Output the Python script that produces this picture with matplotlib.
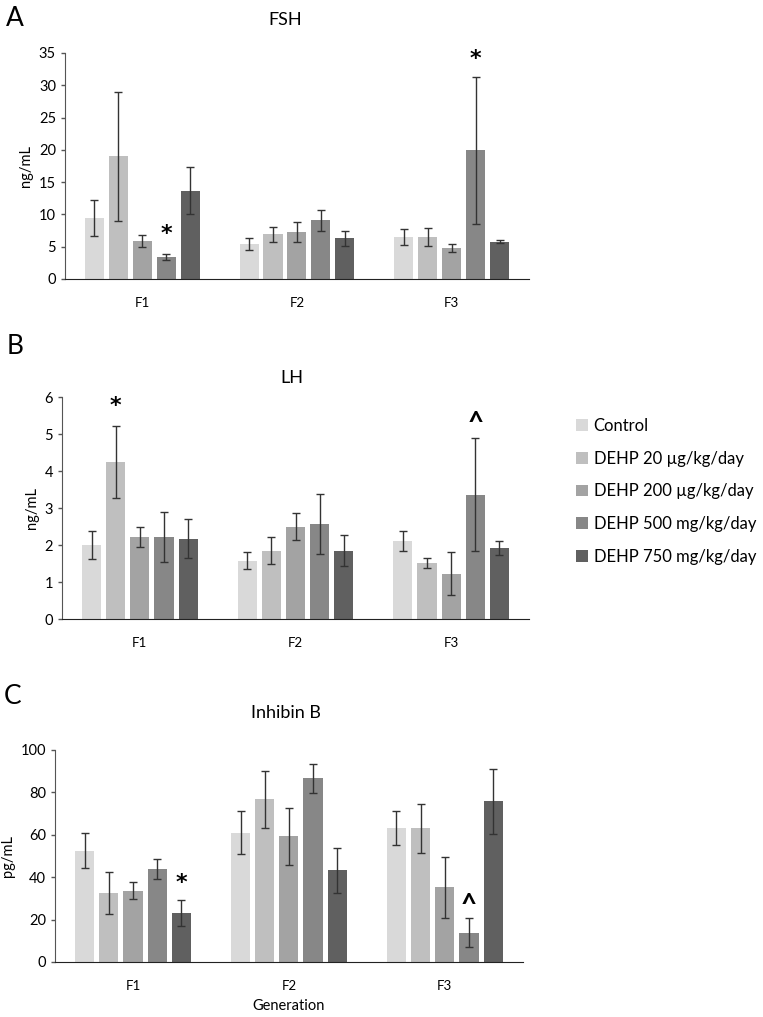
import matplotlib
matplotlib.use("Agg")
import matplotlib.pyplot as plt
from matplotlib.patches import Patch
import numpy as np

plt.rcParams['font.family'] = ['Lato', 'DejaVu Sans']

generaciones = ['F1', 'F2', 'F3']
grupos = ['Control', 'DEHP 20 µg/kg/day', 'DEHP 200 µg/kg/day',
          'DEHP 500 mg/kg/day', 'DEHP 750 mg/kg/day']
colores = ['#d9d9d9', '#bfbfbf', '#a3a3a3', '#878787', '#606060']

# valores [grupo][generacion]
fsh = [[9.5, 5.45, 6.5], [19.0, 6.9, 6.5], [5.9, 7.3, 4.8],
       [3.4, 9.1, 19.9], [13.7, 6.3, 5.8]]
fsh_err = [[2.8, 0.95, 1.3], [10.0, 1.1, 1.45], [0.9, 1.6, 0.6],
           [0.5, 1.6, 11.4], [3.7, 1.2, 0.25]]

lh = [[2.0, 1.58, 2.12], [4.25, 1.85, 1.52], [2.22, 2.5, 1.22],
      [2.22, 2.57, 3.36], [2.17, 1.85, 1.91]]
lh_err = [[0.38, 0.23, 0.27], [0.97, 0.36, 0.13], [0.28, 0.36, 0.58],
          [0.67, 0.8, 1.53], [0.53, 0.42, 0.19]]

inh = [[52.4, 61.0, 63.0], [32.5, 76.8, 63.0], [33.6, 59.3, 35.3],
       [44.0, 86.7, 13.8], [23.1, 43.3, 75.8]]
inh_err = [[8.2, 10.0, 8.0], [9.8, 13.4, 11.5], [3.9, 13.5, 14.4],
           [4.8, 6.8, 6.8], [6.0, 10.6, 15.4]]

# marcas de significancia: (generacion, grupo, simbolo, y)
marcas_fsh = [(0, 3, '*', 6.9), (2, 3, '*', 34.1)]
marcas_lh = [(0, 1, '*', 5.75), (2, 3, '^', 5.5)]
marcas_inh = [(0, 4, '*', 37.2), (2, 3, '^', 30.1)]

ancho = 0.123
paso = 0.155


def panel(fig, rect, valores, errores, ymax, ystep, ylabel, marcas,
          xlabel=None):
    ax = fig.add_axes(rect)
    x = np.arange(len(generaciones))
    for i in range(len(grupos)):
        ax.bar(x + (i - 2) * paso, valores[i], ancho, color=colores[i],
               yerr=errores[i], capsize=3,
               error_kw=dict(ecolor='#333333', elinewidth=1, capthick=1))
    for g, i, s, y in marcas:
        if s == '*':
            ax.text(g + (i - 2) * paso, y, s, ha='center', va='center',
                    fontsize=16, fontweight='bold', family='DejaVu Sans')
        else:
            # el circunflejo queda alto en la caja, se baja un poco
            ax.annotate(s, (g + (i - 2) * paso, y), xytext=(0, -6),
                        textcoords='offset points', ha='center',
                        va='center', fontsize=20, fontweight='bold')
    ax.set_xlim(-0.5, 2.5)
    ax.set_ylim(0, ymax)
    ax.set_yticks(np.arange(0, ymax + 0.001, ystep))
    ax.set_xticks(x)
    ax.set_xticklabels(generaciones)
    ax.tick_params(axis='x', length=0, pad=13, labelsize=9.5)
    ax.tick_params(axis='y', length=3, width=1, labelsize=10.5,
                   color='#555555')
    for s in ['top', 'right']:
        ax.spines[s].set_visible(False)
    ax.spines['left'].set_color('#555555')
    ax.spines['bottom'].set_color('#222222')
    ax.set_ylabel(ylabel, fontsize=10.5)
    if xlabel:
        ax.set_xlabel(xlabel, fontsize=10.5, labelpad=5)
    return ax


fig = plt.figure(figsize=(7.63, 10.17), dpi=100)

panel(fig, [0.0852, 0.7257, 0.608, 0.2222], fsh, fsh_err, 35, 5,
      'ng/mL', marcas_fsh)
panel(fig, [0.0813, 0.3913, 0.612, 0.2183], lh, lh_err, 6, 1,
      'ng/mL', marcas_lh)
panel(fig, [0.0721, 0.0541, 0.613, 0.2085], inh, inh_err, 100, 20,
      'pg/mL', marcas_inh, xlabel='Generation')

# titulos y letras
fig.text(285 / 763, 1 - 20 / 1017, 'FSH', ha='center', va='center', fontsize=13)
fig.text(292 / 763, 1 - 378 / 1017, 'LH', ha='center', va='center', fontsize=13)
fig.text(286 / 763, 1 - 713 / 1017, 'Inhibin B', ha='center', va='center', fontsize=13)
fig.text(15 / 763, 1 - 18 / 1017, 'A', ha='center', va='center', fontsize=19)
fig.text(15 / 763, 1 - 346 / 1017, 'B', ha='center', va='center', fontsize=19)
fig.text(13 / 763, 1 - 697 / 1017, 'C', ha='center', va='center', fontsize=19)

handles = [Patch(facecolor=c, edgecolor='none') for c in colores]
fig.legend(handles, grupos, loc='upper left',
           bbox_to_anchor=(576 / 763, 1 - 418 / 1017), frameon=False,
           fontsize=12, handlelength=0.7, handleheight=0.7,
           handletextpad=0.35, labelspacing=1.0, borderpad=0,
           borderaxespad=0)

plt.savefig('out.png', dpi=100)
plt.close(fig)
